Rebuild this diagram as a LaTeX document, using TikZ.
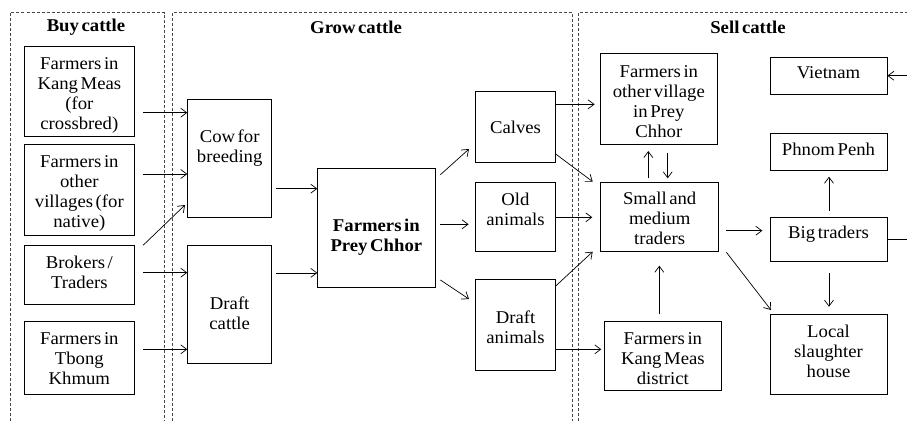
\documentclass[tikz,border=0pt]{standalone}
\usepackage{fontspec}
\setmainfont{Liberation Serif}[FakeStretch=1.04,WordSpace=0.55]
\usetikzlibrary{arrows.meta}
\tikzset{
  bx/.style={draw, line width=0.8pt, inner sep=0pt},
  txt/.style={inner sep=0pt, align=center, font=\fontsize{18}{20}\selectfont},
  hdr/.style={font=\fontsize{18}{20}\selectfont\bfseries, inner sep=0pt},
  panel/.style={draw=black!72, line width=0.9pt, dash pattern=on 3pt off 2pt},
  arr/.style={line width=0.7pt, -{Straight Barb[length=6pt,width=9pt]}},
  ln/.style={line width=0.7pt}
}
% #1 name, #2 text, #3 x1, #4 x2, #5 y1, #6 y2, #7 text offset (down)
\newcommand{\bxat}[7]{%
  \node[bx, minimum width=#4pt-#3pt, minimum height=#6pt-#5pt] (#1) at ({(#3+#4)/2},{(#5+#6)/2}) {};
  \node[txt] (#1t) at ({(#3+#4)/2},{(#5+#6)/2+#7}) {#2};}
\begin{document}
\begin{tikzpicture}[x=1pt,y=-1pt]
\useasboundingbox (0,0) rectangle (907,421);
% panels
\draw[panel] (10,421) -- (10,12.5) -- (164,12.5) -- (164,421);
\draw[panel] (172.5,421) -- (172.5,12.5) -- (572.5,12.5) -- (572.5,421);
\draw[panel] (578.5,421) -- (578.5,12.5) -- (907,12.5);
\node[hdr] (h1) at (86,27) {Buy cattle};
\node[hdr] (h2) at (356,27) {Grow cattle};
\node[hdr] (h3) at (748,27) {Sell cattle};
% left boxes
\bxat{b1}{Farmers in\\Kang Meas\\(for\\crossbred)}{24}{134.7}{46.7}{136.7}{3.5}
\bxat{b2}{Farmers in\\other\\villages (for\\native)}{24}{134.7}{144.3}{235}{4}
\bxat{b3}{Brokers /\\Traders}{24}{134.7}{245.7}{304.3}{-3}
\bxat{b4}{Farmers in\\Tbong\\Khmum}{24}{134.7}{321.7}{394.3}{1}
% middle
\bxat{cow}{Cow for\\breeding}{187.7}{271.7}{99}{217.3}{-10.5}
\bxat{dc}{Draft\\cattle}{187.7}{271.7}{245.7}{363.3}{9}
\bxat{pc}{\bfseries Farmers in\\\bfseries Prey Chhor}{317.7}{435}{168.3}{287.3}{9.5}
\bxat{cal}{Calves}{475.7}{555.3}{91}{162.3}{1}
\bxat{old}{Old\\animals}{475.7}{555.3}{182}{251.7}{-8}
\bxat{da}{Draft\\animals}{475.7}{555.3}{279.3}{370.3}{2}
% right
\bxat{ov}{Farmers in\\other village\\in Prey\\Chhor}{600}{717.7}{53.3}{144.3}{2.5}
\bxat{sm}{Small and\\medium\\traders}{600.7}{718.7}{182.3}{251.7}{1}
\bxat{km}{Farmers in\\Kang Meas\\district}{604}{721.7}{321}{390.7}{2.7}
\bxat{vn}{Vietnam}{770}{887}{57.3}{94.3}{-2.7}
\bxat{pp}{Phnom Penh}{770}{887}{133.3}{170.3}{-2}
\bxat{bt}{Big traders}{770}{887}{217.3}{261.7}{-5}
\bxat{sl}{Local\\slaughter\\house}{770}{887}{314.3}{394.3}{-3}
% edge coordinates
\coordinate (eb) at (907,239);
\coordinate (ev) at (907,75.7);
% arrows left -> middle
\draw[arr] ([xshift=8pt]b1.east |- 0,112.7) -- (cow.west |- 0,112.7);
\draw[arr] ([xshift=8pt]b2.east |- 0,174) -- (cow.west |- 0,174);
\draw[arr] ([xshift=8pt]b3.north east) -- (185,205);
\draw[arr] ([xshift=8pt]b3.east |- 0,272.7) -- (dc.west |- 0,272.7);
\draw[arr] ([xshift=8pt]b4.east |- 0,349.3) -- (dc.west |- 0,349.3);
% middle -> prey chhor
\draw[arr] ([xshift=3.5pt]cow.east |- 0,188.7) -- (pc.west |- 0,188.7);
\draw[arr] ([xshift=3.5pt]dc.east |- 0,272.9) -- (pc.west |- 0,272.9);
% prey chhor -> products
\draw[arr] ([xshift=5pt]pc.east |- 0,174.7) -- (469,149);
\draw[arr] ([xshift=5pt]pc.east |- 0,224.3) -- ([xshift=-6.7pt]old.west |- 0,224.3);
\draw[arr] ([xshift=5pt]pc.east |- 0,280) -- (469,299);
% products -> sell
\draw[arr] (cal.east |- 0,104.3) -- ([xshift=-5pt]ov.west |- 0,104.3);
\draw[arr] (cal.east |- 0,154) -- (592.7,181.7);
\draw[arr] (old.east |- 0,217.3) -- ([xshift=-8pt]sm.west |- 0,217.3);
\draw[arr] (da.east |- 0,286) -- (592.7,251.7);
\draw[arr] (da.east |- 0,349.3) -- ([xshift=-2.3pt]km.west |- 0,349.3);
% sell panel
\draw[arr] (648.3,178.3) -- (648.3,151);
\draw[arr] (667.7,152.7) -- (667.7,178.3);
\draw[arr] (659.3,314.3) -- (659.3,265.7);
\draw[arr] ([xshift=7.3pt]sm.east |- 0,230.7) -- ([xshift=-7.3pt]bt.west |- 0,230.7);
\draw[arr] ([xshift=7.3pt]sm.east |- 0,252.3) -- (771,310);
\draw[arr] (829,210.7) -- (829,176.7);
\draw[arr] (829,273.3) -- (829,306.7);
\draw[ln] (bt.east |- eb) -- (eb);
\draw[arr] (ev) -- (vn.east |- ev);
\end{tikzpicture}
\end{document}
